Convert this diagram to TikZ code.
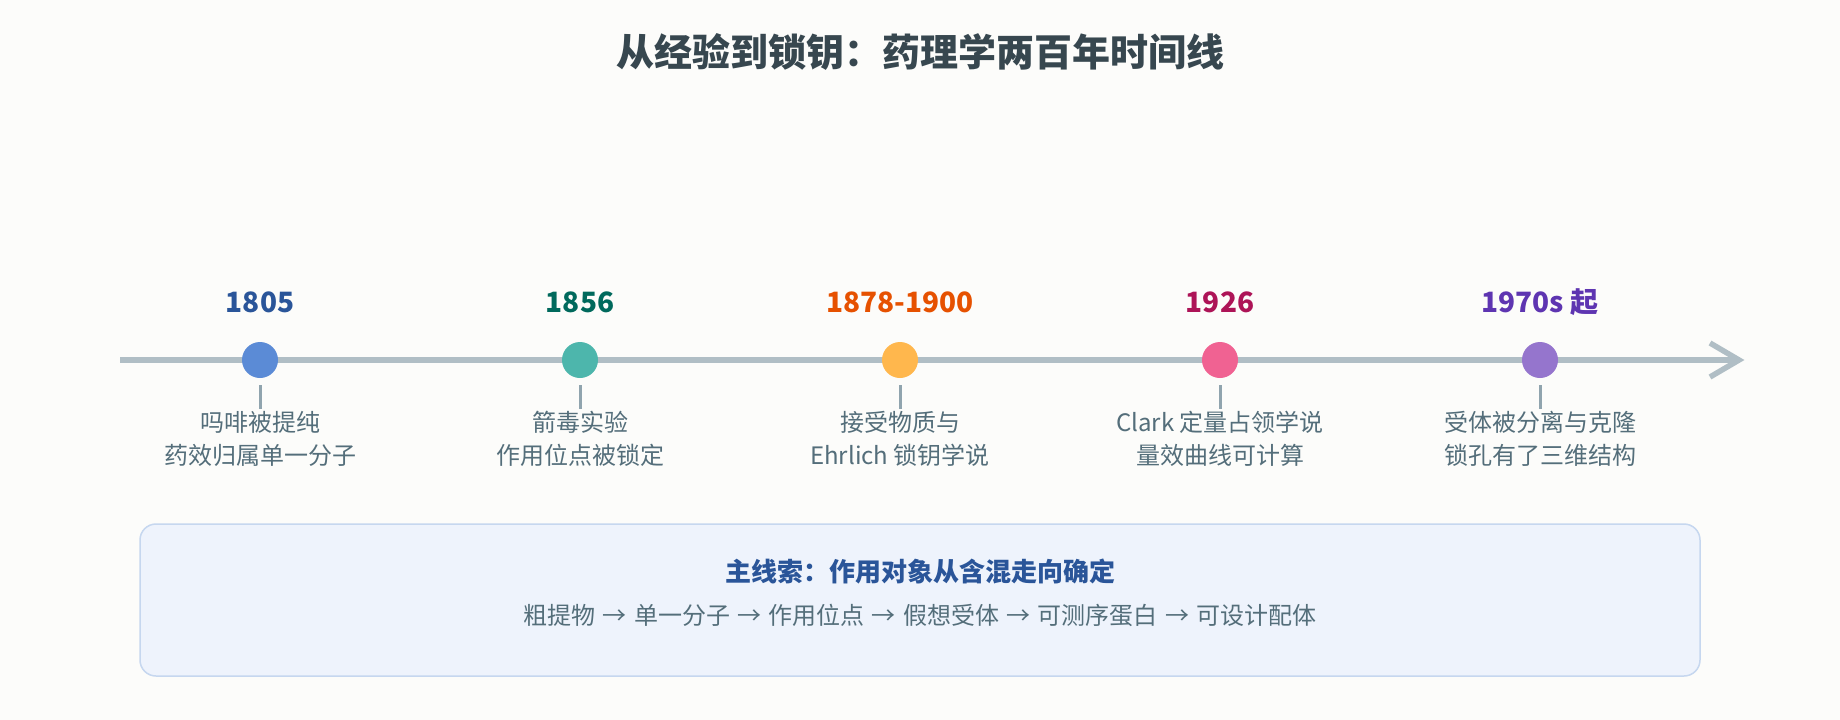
\documentclass[tikz,border=0pt]{standalone}
\usepackage{fontspec}
\setmainfont{Noto Sans CJK SC}
\usetikzlibrary{calc}
\definecolor{bgc}{HTML}{FCFCFA}
\definecolor{titlec}{HTML}{37474F}
\definecolor{descc}{HTML}{546E7A}
\definecolor{axisc}{HTML}{B0BEC5}
\definecolor{tickc}{HTML}{90A4AE}
\definecolor{boxfill}{HTML}{EEF3FC}
\definecolor{boxdraw}{HTML}{C6D7EF}
\definecolor{boxtitle}{HTML}{2A5599}
\definecolor{ya}{HTML}{2A5599}\definecolor{da}{HTML}{5B8BD6}
\definecolor{yb}{HTML}{00695C}\definecolor{db}{HTML}{4DB6AC}
\definecolor{yc}{HTML}{E65100}\definecolor{dc}{HTML}{FFB74D}
\definecolor{yd}{HTML}{AD1457}\definecolor{dd}{HTML}{F06292}
\definecolor{ye}{HTML}{5E35B1}\definecolor{de}{HTML}{9575CD}
\newcommand{\chainarrow}{\hspace{7.3pt}→\hspace{7.3pt}}
\tikzset{
  yearlabel/.style={font=\fontsize{28}{32}\selectfont\bfseries, inner sep=0pt, anchor=center},
  dotnode/.style={circle, inner sep=0pt, minimum size=36pt, draw=none},
  desclabel/.style={font=\fontsize{24}{33}\selectfont, text=descc, align=center, inner sep=0pt, anchor=center},
  tickline/.style={draw=tickc, line width=3pt},
  axisline/.style={draw=axisc, line width=5.5pt},
  summarybox/.style={draw=boxdraw, fill=boxfill, line width=1.5pt, rounded corners=16pt}
}
\begin{document}
\begin{tikzpicture}[x=1pt,y=-1pt]
\fill[bgc] (0,0) rectangle (1840,720);
\useasboundingbox (0,0) rectangle (1840,720);

\node[font=\fontsize{38}{44}\selectfont\bfseries, text=titlec, inner sep=0pt] (title) at (920,52) {从经验到锁钥：药理学两百年时间线};

\coordinate (axstart) at (120,360);
\coordinate (axtip) at (1739,360);
\draw[axisline] (axstart) -- (axtip);
\draw[axisline] ($(axtip)+(-29,-17)$) -- (axtip) -- ($(axtip)+(-29,17)$);

\foreach \i/\x/\yr/\ycol/\dcol/\la/\lb in {
  1/260/1805/ya/da/吗啡被提纯/药效归属单一分子,
  2/580/1856/yb/db/箭毒实验/作用位点被锁定,
  3/900/1878-1900/yc/dc/接受物质与/Ehrlich 锁钥学说,
  4/1220/1926/yd/dd/Clark 定量占领学说/量效曲线可计算,
  5/1540/1970s 起/ye/de/受体被分离与克隆/锁孔有了三维结构}{
  \node[yearlabel, text=\ycol] (year\i) at (\x,302) {\yr};
  \node[dotnode, fill=\dcol] (dot\i) at (\x,360) {};
  \node[desclabel] (desc\i) at (\x,439) {\la\\\lb};
  \draw[tickline] ($(dot\i.south)+(0,7)$) -- ($(dot\i.south)+(0,31)$);
}

\draw[summarybox] (140,524) rectangle (1700,676);
\node[font=\fontsize{26}{30}\selectfont\bfseries, text=boxtitle, inner sep=0pt] (boxhead) at (920,572) {主线索：作用对象从含混走向确定};
\node[font=\fontsize{24}{30}\selectfont, text=descc, inner sep=0pt] (boxchain) at (920,615) {粗提物\chainarrow 单一分子\chainarrow 作用位点\chainarrow 假想受体\chainarrow 可测序蛋白\chainarrow 可设计配体};
\end{tikzpicture}
\end{document}
